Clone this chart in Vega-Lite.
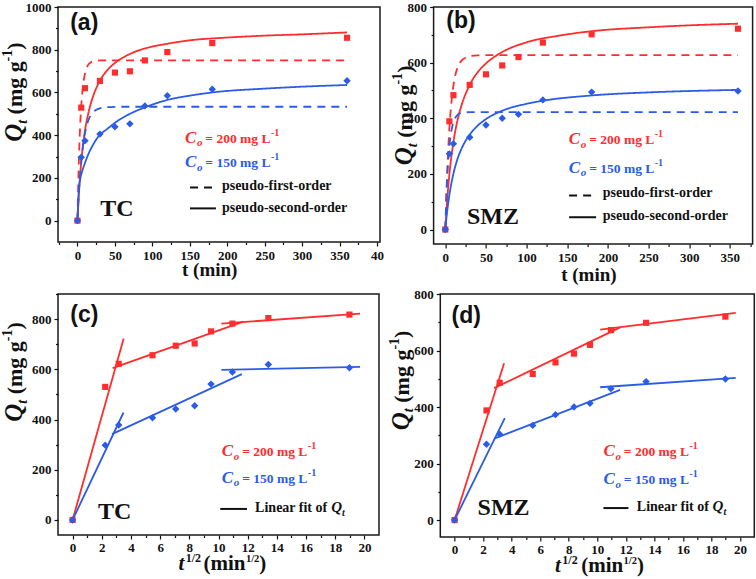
{
"$schema":"https://vega.github.io/schema/vega-lite/v6.json",
"padding":{"left":0,"top":0,"right":0,"bottom":0},
"background":"white",
"spacing":1,
"datasets":{
"pts":[
{"p":"a","s":"r","x":0,"y":0},{"p":"a","s":"r","x":5,"y":529},{"p":"a","s":"r","x":10,"y":620},{"p":"a","s":"r","x":30,"y":654},{"p":"a","s":"r","x":50,"y":693},{"p":"a","s":"r","x":70,"y":699},{"p":"a","s":"r","x":90,"y":750},{"p":"a","s":"r","x":120,"y":789},{"p":"a","s":"r","x":180,"y":831},{"p":"a","s":"r","x":360,"y":856},
{"p":"a","s":"b","x":0,"y":0},{"p":"a","s":"b","x":5,"y":297},{"p":"a","s":"b","x":10,"y":374},{"p":"a","s":"b","x":30,"y":405},{"p":"a","s":"b","x":50,"y":439},{"p":"a","s":"b","x":70,"y":453},{"p":"a","s":"b","x":90,"y":537},{"p":"a","s":"b","x":120,"y":585},{"p":"a","s":"b","x":180,"y":615},{"p":"a","s":"b","x":360,"y":655},
{"p":"b","s":"r","x":0,"y":0},{"p":"b","s":"r","x":5,"y":389},{"p":"b","s":"r","x":10,"y":483},{"p":"b","s":"r","x":30,"y":520},{"p":"b","s":"r","x":50,"y":558},{"p":"b","s":"r","x":70,"y":590},{"p":"b","s":"r","x":90,"y":620},{"p":"b","s":"r","x":120,"y":672},{"p":"b","s":"r","x":180,"y":702},{"p":"b","s":"r","x":360,"y":722},
{"p":"b","s":"b","x":0,"y":0},{"p":"b","s":"b","x":5,"y":272},{"p":"b","s":"b","x":10,"y":308},{"p":"b","s":"b","x":30,"y":332},{"p":"b","s":"b","x":50,"y":376},{"p":"b","s":"b","x":70,"y":400},{"p":"b","s":"b","x":90,"y":414},{"p":"b","s":"b","x":120,"y":466},{"p":"b","s":"b","x":180,"y":494},{"p":"b","s":"b","x":360,"y":498},
{"p":"c","s":"r","x":0,"y":0},{"p":"c","s":"r","x":2.236,"y":530},{"p":"c","s":"r","x":3.162,"y":622},{"p":"c","s":"r","x":5.477,"y":656},{"p":"c","s":"r","x":7.071,"y":694},{"p":"c","s":"r","x":8.367,"y":703},{"p":"c","s":"r","x":9.487,"y":751},{"p":"c","s":"r","x":10.954,"y":782},{"p":"c","s":"r","x":13.416,"y":804},{"p":"c","s":"r","x":18.974,"y":818},
{"p":"c","s":"b","x":0,"y":0},{"p":"c","s":"b","x":2.236,"y":298},{"p":"c","s":"b","x":3.162,"y":378},{"p":"c","s":"b","x":5.477,"y":407},{"p":"c","s":"b","x":7.071,"y":442},{"p":"c","s":"b","x":8.367,"y":455},{"p":"c","s":"b","x":9.487,"y":541},{"p":"c","s":"b","x":10.954,"y":589},{"p":"c","s":"b","x":13.416,"y":619},{"p":"c","s":"b","x":18.974,"y":606},
{"p":"d","s":"r","x":0,"y":0},{"p":"d","s":"r","x":2.236,"y":388},{"p":"d","s":"r","x":3.162,"y":486},{"p":"d","s":"r","x":5.477,"y":517},{"p":"d","s":"r","x":7.071,"y":558},{"p":"d","s":"r","x":8.367,"y":589},{"p":"d","s":"r","x":9.487,"y":620},{"p":"d","s":"r","x":10.954,"y":672},{"p":"d","s":"r","x":13.416,"y":698},{"p":"d","s":"r","x":18.974,"y":720},
{"p":"d","s":"b","x":0,"y":0},{"p":"d","s":"b","x":2.236,"y":268},{"p":"d","s":"b","x":3.162,"y":304},{"p":"d","s":"b","x":5.477,"y":335},{"p":"d","s":"b","x":7.071,"y":373},{"p":"d","s":"b","x":8.367,"y":400},{"p":"d","s":"b","x":9.487,"y":413},{"p":"d","s":"b","x":10.954,"y":465},{"p":"d","s":"b","x":13.416,"y":490},{"p":"d","s":"b","x":18.974,"y":499}
],
"fit":[
{"p":"a","g":"arf","s":"r","m":"pfo","x":0,"y":0},{"p":"a","g":"arf","s":"r","m":"pfo","x":1,"y":166},{"p":"a","g":"arf","s":"r","m":"pfo","x":2,"y":295},{"p":"a","g":"arf","s":"r","m":"pfo","x":3,"y":396},{"p":"a","g":"arf","s":"r","m":"pfo","x":4,"y":474},{"p":"a","g":"arf","s":"r","m":"pfo","x":5,"y":534},{"p":"a","g":"arf","s":"r","m":"pfo","x":6,"y":582},{"p":"a","g":"arf","s":"r","m":"pfo","x":8,"y":647},{"p":"a","g":"arf","s":"r","m":"pfo","x":10,"y":688},{"p":"a","g":"arf","s":"r","m":"pfo","x":12,"y":713},{"p":"a","g":"arf","s":"r","m":"pfo","x":15,"y":733},{"p":"a","g":"arf","s":"r","m":"pfo","x":20,"y":745},{"p":"a","g":"arf","s":"r","m":"pfo","x":25,"y":748},{"p":"a","g":"arf","s":"r","m":"pfo","x":30,"y":750},{"p":"a","g":"arf","s":"r","m":"pfo","x":360,"y":750},
{"p":"a","g":"ars","s":"r","m":"pso","x":0,"y":0},{"p":"a","g":"ars","s":"r","m":"pso","x":1,"y":72},{"p":"a","g":"ars","s":"r","m":"pso","x":2,"y":133},{"p":"a","g":"ars","s":"r","m":"pso","x":3,"y":186},{"p":"a","g":"ars","s":"r","m":"pso","x":5,"y":273},{"p":"a","g":"ars","s":"r","m":"pso","x":7,"y":341},{"p":"a","g":"ars","s":"r","m":"pso","x":10,"y":420},{"p":"a","g":"ars","s":"r","m":"pso","x":15,"y":510},{"p":"a","g":"ars","s":"r","m":"pso","x":20,"y":573},{"p":"a","g":"ars","s":"r","m":"pso","x":30,"y":655},{"p":"a","g":"ars","s":"r","m":"pso","x":40,"y":705},{"p":"a","g":"ars","s":"r","m":"pso","x":50,"y":738},{"p":"a","g":"ars","s":"r","m":"pso","x":70,"y":780},{"p":"a","g":"ars","s":"r","m":"pso","x":90,"y":806},{"p":"a","g":"ars","s":"r","m":"pso","x":120,"y":828},{"p":"a","g":"ars","s":"r","m":"pso","x":150,"y":844},{"p":"a","g":"ars","s":"r","m":"pso","x":200,"y":857},{"p":"a","g":"ars","s":"r","m":"pso","x":250,"y":866},{"p":"a","g":"ars","s":"r","m":"pso","x":300,"y":872},{"p":"a","g":"ars","s":"r","m":"pso","x":360,"y":881},
{"p":"a","g":"abf","s":"b","m":"pfo","x":0,"y":0},{"p":"a","g":"abf","s":"b","m":"pfo","x":1,"y":72},{"p":"a","g":"abf","s":"b","m":"pfo","x":2,"y":136},{"p":"a","g":"abf","s":"b","m":"pfo","x":3,"y":190},{"p":"a","g":"abf","s":"b","m":"pfo","x":4,"y":236},{"p":"a","g":"abf","s":"b","m":"pfo","x":6,"y":311},{"p":"a","g":"abf","s":"b","m":"pfo","x":8,"y":367},{"p":"a","g":"abf","s":"b","m":"pfo","x":10,"y":410},{"p":"a","g":"abf","s":"b","m":"pfo","x":12,"y":441},{"p":"a","g":"abf","s":"b","m":"pfo","x":15,"y":474},{"p":"a","g":"abf","s":"b","m":"pfo","x":20,"y":503},{"p":"a","g":"abf","s":"b","m":"pfo","x":25,"y":519},{"p":"a","g":"abf","s":"b","m":"pfo","x":30,"y":526},{"p":"a","g":"abf","s":"b","m":"pfo","x":40,"y":531},{"p":"a","g":"abf","s":"b","m":"pfo","x":60,"y":533},{"p":"a","g":"abf","s":"b","m":"pfo","x":360,"y":533},
{"p":"a","g":"abs","s":"b","m":"pso","x":0,"y":0},{"p":"a","g":"abs","s":"b","m":"pso","x":1,"y":90},{"p":"a","g":"abs","s":"b","m":"pso","x":2,"y":150},{"p":"a","g":"abs","s":"b","m":"pso","x":4,"y":200},{"p":"a","g":"abs","s":"b","m":"pso","x":6,"y":228},{"p":"a","g":"abs","s":"b","m":"pso","x":10,"y":270},{"p":"a","g":"abs","s":"b","m":"pso","x":15,"y":315},{"p":"a","g":"abs","s":"b","m":"pso","x":20,"y":350},{"p":"a","g":"abs","s":"b","m":"pso","x":28,"y":394},{"p":"a","g":"abs","s":"b","m":"pso","x":40,"y":430},{"p":"a","g":"abs","s":"b","m":"pso","x":50,"y":458},{"p":"a","g":"abs","s":"b","m":"pso","x":70,"y":500},{"p":"a","g":"abs","s":"b","m":"pso","x":90,"y":530},{"p":"a","g":"abs","s":"b","m":"pso","x":120,"y":565},{"p":"a","g":"abs","s":"b","m":"pso","x":150,"y":585},{"p":"a","g":"abs","s":"b","m":"pso","x":180,"y":600},{"p":"a","g":"abs","s":"b","m":"pso","x":250,"y":618},{"p":"a","g":"abs","s":"b","m":"pso","x":300,"y":627},{"p":"a","g":"abs","s":"b","m":"pso","x":360,"y":635},
{"p":"b","g":"brf","s":"r","m":"pfo","x":0,"y":0},{"p":"b","g":"brf","s":"r","m":"pfo","x":2,"y":183},{"p":"b","g":"brf","s":"r","m":"pfo","x":4,"y":313},{"p":"b","g":"brf","s":"r","m":"pfo","x":6,"y":406},{"p":"b","g":"brf","s":"r","m":"pfo","x":8,"y":471},{"p":"b","g":"brf","s":"r","m":"pfo","x":10,"y":518},{"p":"b","g":"brf","s":"r","m":"pfo","x":12,"y":551},{"p":"b","g":"brf","s":"r","m":"pfo","x":15,"y":583},{"p":"b","g":"brf","s":"r","m":"pfo","x":20,"y":607},{"p":"b","g":"brf","s":"r","m":"pfo","x":25,"y":618},{"p":"b","g":"brf","s":"r","m":"pfo","x":30,"y":623},{"p":"b","g":"brf","s":"r","m":"pfo","x":40,"y":626},{"p":"b","g":"brf","s":"r","m":"pfo","x":60,"y":627},{"p":"b","g":"brf","s":"r","m":"pfo","x":360,"y":627},
{"p":"b","g":"brs","s":"r","m":"pso","x":0,"y":0},{"p":"b","g":"brs","s":"r","m":"pso","x":2,"y":93},{"p":"b","g":"brs","s":"r","m":"pso","x":5,"y":198},{"p":"b","g":"brs","s":"r","m":"pso","x":10,"y":315},{"p":"b","g":"brs","s":"r","m":"pso","x":15,"y":393},{"p":"b","g":"brs","s":"r","m":"pso","x":20,"y":447},{"p":"b","g":"brs","s":"r","m":"pso","x":30,"y":520},{"p":"b","g":"brs","s":"r","m":"pso","x":40,"y":566},{"p":"b","g":"brs","s":"r","m":"pso","x":50,"y":597},{"p":"b","g":"brs","s":"r","m":"pso","x":70,"y":638},{"p":"b","g":"brs","s":"r","m":"pso","x":100,"y":673},{"p":"b","g":"brs","s":"r","m":"pso","x":140,"y":697},{"p":"b","g":"brs","s":"r","m":"pso","x":180,"y":713},{"p":"b","g":"brs","s":"r","m":"pso","x":250,"y":727},{"p":"b","g":"brs","s":"r","m":"pso","x":300,"y":734},{"p":"b","g":"brs","s":"r","m":"pso","x":360,"y":740},
{"p":"b","g":"bbf","s":"b","m":"pfo","x":0,"y":0},{"p":"b","g":"bbf","s":"b","m":"pfo","x":2,"y":165},{"p":"b","g":"bbf","s":"b","m":"pfo","x":4,"y":265},{"p":"b","g":"bbf","s":"b","m":"pfo","x":6,"y":326},{"p":"b","g":"bbf","s":"b","m":"pfo","x":8,"y":363},{"p":"b","g":"bbf","s":"b","m":"pfo","x":10,"y":386},{"p":"b","g":"bbf","s":"b","m":"pfo","x":12,"y":400},{"p":"b","g":"bbf","s":"b","m":"pfo","x":15,"y":412},{"p":"b","g":"bbf","s":"b","m":"pfo","x":20,"y":419},{"p":"b","g":"bbf","s":"b","m":"pfo","x":30,"y":422},{"p":"b","g":"bbf","s":"b","m":"pfo","x":360,"y":422},
{"p":"b","g":"bbs","s":"b","m":"pso","x":0,"y":0},{"p":"b","g":"bbs","s":"b","m":"pso","x":2,"y":58},{"p":"b","g":"bbs","s":"b","m":"pso","x":5,"y":124},{"p":"b","g":"bbs","s":"b","m":"pso","x":10,"y":201},{"p":"b","g":"bbs","s":"b","m":"pso","x":15,"y":254},{"p":"b","g":"bbs","s":"b","m":"pso","x":20,"y":291},{"p":"b","g":"bbs","s":"b","m":"pso","x":30,"y":341},{"p":"b","g":"bbs","s":"b","m":"pso","x":40,"y":374},{"p":"b","g":"bbs","s":"b","m":"pso","x":50,"y":397},{"p":"b","g":"bbs","s":"b","m":"pso","x":70,"y":427},{"p":"b","g":"bbs","s":"b","m":"pso","x":100,"y":452},{"p":"b","g":"bbs","s":"b","m":"pso","x":120,"y":463},{"p":"b","g":"bbs","s":"b","m":"pso","x":180,"y":482},{"p":"b","g":"bbs","s":"b","m":"pso","x":250,"y":493},{"p":"b","g":"bbs","s":"b","m":"pso","x":300,"y":498},{"p":"b","g":"bbs","s":"b","m":"pso","x":360,"y":502},
{"p":"c","g":"cr1","s":"r","m":"lin","x":0,"y":0},{"p":"c","g":"cr1","s":"r","m":"lin","x":3.5,"y":723},
{"p":"c","g":"cr2","s":"r","m":"lin","x":2.74,"y":605},{"p":"c","g":"cr2","s":"r","m":"lin","x":11.7,"y":790},
{"p":"c","g":"cr3","s":"r","m":"lin","x":10.2,"y":782},{"p":"c","g":"cr3","s":"r","m":"lin","x":19.7,"y":822},
{"p":"c","g":"cb1","s":"b","m":"lin","x":0,"y":0},{"p":"c","g":"cb1","s":"b","m":"lin","x":3.49,"y":428},
{"p":"c","g":"cb2","s":"b","m":"lin","x":2.7,"y":342},{"p":"c","g":"cb2","s":"b","m":"lin","x":11.6,"y":581},
{"p":"c","g":"cb3","s":"b","m":"lin","x":10.2,"y":598},{"p":"c","g":"cb3","s":"b","m":"lin","x":19.7,"y":610},
{"p":"d","g":"dr1","s":"r","m":"lin","x":0,"y":0},{"p":"d","g":"dr1","s":"r","m":"lin","x":3.47,"y":555},
{"p":"d","g":"dr2","s":"r","m":"lin","x":2.77,"y":467},{"p":"d","g":"dr2","s":"r","m":"lin","x":11.6,"y":682},
{"p":"d","g":"dr3","s":"r","m":"lin","x":10.2,"y":674},{"p":"d","g":"dr3","s":"r","m":"lin","x":19.7,"y":733},
{"p":"d","g":"db1","s":"b","m":"lin","x":0,"y":0},{"p":"d","g":"db1","s":"b","m":"lin","x":3.52,"y":361},
{"p":"d","g":"db2","s":"b","m":"lin","x":2.77,"y":288},{"p":"d","g":"db2","s":"b","m":"lin","x":11.6,"y":461},
{"p":"d","g":"db3","s":"b","m":"lin","x":10.2,"y":470},{"p":"d","g":"db3","s":"b","m":"lin","x":19.7,"y":503}
]
},
"vconcat":[
{"hconcat":[
{"width":322,"height":235,
"layer":[
{"data":{"name":"fit"},"transform":[{"filter":"datum.p=='a'"}],"mark":{"type":"line","strokeWidth":1.8,"interpolate":"monotone"},
"encoding":{
"x":{"field":"x","type":"quantitative","scale":{"domain":[-26,404],"nice":false,"zero":false},"axis":{"title":null,"tickCount":100,"format":"d","labelOverlap":false,"values":[-25,0,25,50,75,100,125,150,175,200,225,250,275,300,325,350,375,400],"labelExpr":"datum.value < 0 || datum.value % 50 != 0 ? '' : (datum.value == 400 ? '40\u2002' : datum.label)","tickSize":{"condition":{"test":"datum.value % 50 == 0","value":4},"value":2.5},"labelPadding":3}},
"y":{"field":"y","type":"quantitative","scale":{"domain":[-100,1000],"nice":false,"zero":false},"axis":{"title":null,"tickCount":100,"labelOverlap":false,"format":"d","values":[0,100,200,300,400,500,600,700,800,900,1000],"labelExpr":"datum.value % 200 == 0 ? datum.label : ''","tickSize":{"condition":{"test":"datum.value % 200 == 0","value":4},"value":2.5},"labelPadding":3}},
"color":{"field":"s","type":"nominal","scale":{"domain":["r","b"],"range":["#FF2D2D","#2B5CE6"]},"legend":null},
"strokeDash":{"field":"m","type":"nominal","scale":{"domain":["pfo","pso","lin"],"range":[[8,6],[1,0],[1,0]]},"legend":null},
"detail":{"field":"g"}}},
{"data":{"name":"pts"},"transform":[{"filter":"datum.p=='a'"}],"mark":{"type":"point","filled":true,"opacity":1},
"encoding":{"x":{"field":"x","type":"quantitative"},"y":{"field":"y","type":"quantitative"},
"color":{"field":"s","type":"nominal","legend":null},
"shape":{"field":"s","type":"nominal","scale":{"domain":["r","b"],"range":["square","diamond"]},"legend":null},
"size":{"field":"s","type":"nominal","scale":{"domain":["r","b"],"range":[38,55]},"legend":null}}},
{"data":{"values":[{}]},"mark":{"type":"text","text":"(a)","font":"Liberation Sans","fontWeight":"bold","fontSize":23,"align":"left","baseline":"alphabetic","color":"#111"},"encoding":{"x":{"datum":-9.7},"y":{"datum":894}}},
{"data":{"values":[{}]},"mark":{"type":"text","text":"TC","font":"Liberation Serif","fontWeight":"bold","fontSize":24,"align":"left","baseline":"alphabetic","color":"#111"},"encoding":{"x":{"datum":30.3},"y":{"datum":21.4}}},
{"data":{"values":[{}]},"mark":{"type":"text","text":"C","font":"Liberation Serif","fontWeight":"bold","fontStyle":"italic","fontSize":17,"align":"left","baseline":"alphabetic","color":"#FF2D2D"},"encoding":{"x":{"datum":143.6},"y":{"datum":364.9}}},
{"data":{"values":[{}]},"mark":{"type":"text","text":"o","font":"Liberation Serif","fontWeight":"bold","fontStyle":"italic","fontSize":11,"align":"left","baseline":"alphabetic","color":"#FF2D2D"},"encoding":{"x":{"datum":159.6},"y":{"datum":348.6}}},
{"data":{"values":[{}]},"mark":{"type":"text","text":"= 200 mg L","font":"Liberation Serif","fontWeight":"bold","fontSize":13.5,"align":"left","baseline":"alphabetic","color":"#FF2D2D"},"encoding":{"x":{"datum":170.8},"y":{"datum":364.9}}},
{"data":{"values":[{}]},"mark":{"type":"text","text":"-1","font":"Liberation Serif","fontWeight":"bold","fontSize":10,"align":"left","baseline":"alphabetic","color":"#FF2D2D"},"encoding":{"x":{"datum":258.3},"y":{"datum":397.5}}},
{"data":{"values":[{}]},"mark":{"type":"text","text":"C","font":"Liberation Serif","fontWeight":"bold","fontStyle":"italic","fontSize":17,"align":"left","baseline":"alphabetic","color":"#2B5CE6"},"encoding":{"x":{"datum":143.6},"y":{"datum":250.7}}},
{"data":{"values":[{}]},"mark":{"type":"text","text":"o","font":"Liberation Serif","fontWeight":"bold","fontStyle":"italic","fontSize":11,"align":"left","baseline":"alphabetic","color":"#2B5CE6"},"encoding":{"x":{"datum":159.6},"y":{"datum":234.4}}},
{"data":{"values":[{}]},"mark":{"type":"text","text":"= 150 mg L","font":"Liberation Serif","fontWeight":"bold","fontSize":13.5,"align":"left","baseline":"alphabetic","color":"#2B5CE6"},"encoding":{"x":{"datum":170.8},"y":{"datum":250.7}}},
{"data":{"values":[{}]},"mark":{"type":"text","text":"-1","font":"Liberation Serif","fontWeight":"bold","fontSize":10,"align":"left","baseline":"alphabetic","color":"#2B5CE6"},"encoding":{"x":{"datum":258.3},"y":{"datum":283.3}}},
{"data":{"values":[{}]},"mark":{"type":"rule","strokeDash":[8,6],"strokeWidth":2,"color":"#111"},"encoding":{"x":{"datum":150.3},"x2":{"datum":181},"y":{"datum":155.2}}},
{"data":{"values":[{}]},"mark":{"type":"text","text":"pseudo-first-order","font":"Liberation Serif","fontWeight":"bold","fontSize":14,"align":"left","baseline":"alphabetic","color":"#111"},"encoding":{"x":{"datum":192.9},"y":{"datum":141.2}}},
{"data":{"values":[{}]},"mark":{"type":"rule","strokeWidth":2,"color":"#111"},"encoding":{"x":{"datum":150.3},"x2":{"datum":184.9},"y":{"datum":57.3}}},
{"data":{"values":[{}]},"mark":{"type":"text","text":"pseudo-second-order","font":"Liberation Serif","fontWeight":"bold","fontSize":14,"align":"left","baseline":"alphabetic","color":"#111"},"encoding":{"x":{"datum":192.9},"y":{"datum":38.7}}},
{"data":{"values":[{}]},"mark":{"type":"text","text":"t (min)","font":"Liberation Serif","fontWeight":"bold","fontSize":19,"align":"left","baseline":"alphabetic","color":"#111"},"encoding":{"x":{"datum":139.6},"y":{"datum":-258}}},
{"data":{"values":[{}]},"mark":{"type":"text","text":"Q","angle":270,"font":"Liberation Serif","fontWeight":"bold","fontStyle":"italic","fontSize":25,"align":"left","baseline":"alphabetic","color":"#111"},"encoding":{"x":{"datum":-73.7},"y":{"datum":369.5}}},
{"data":{"values":[{}]},"mark":{"type":"text","text":"t","angle":270,"font":"Liberation Serif","fontWeight":"bold","fontStyle":"italic","fontSize":14,"align":"left","baseline":"alphabetic","color":"#111"},"encoding":{"x":{"datum":-67.7},"y":{"datum":453.4}}},
{"data":{"values":[{}]},"mark":{"type":"text","text":"(mg g","angle":270,"font":"Liberation Serif","fontWeight":"bold","fontSize":22,"align":"left","baseline":"alphabetic","color":"#111"},"encoding":{"x":{"datum":-73.7},"y":{"datum":497.2}}},
{"data":{"values":[{}]},"mark":{"type":"text","text":"-1","angle":270,"font":"Liberation Serif","fontWeight":"bold","fontSize":14,"align":"left","baseline":"alphabetic","color":"#111"},"encoding":{"x":{"datum":-87.1},"y":{"datum":745.1}}},
{"data":{"values":[{}]},"mark":{"type":"text","text":")","angle":270,"font":"Liberation Serif","fontWeight":"bold","fontSize":22,"align":"left","baseline":"alphabetic","color":"#111"},"encoding":{"x":{"datum":-73.7},"y":{"datum":799.6}}}
]},
{"width":319,"height":237,
"layer":[
{"data":{"name":"fit"},"transform":[{"filter":"datum.p=='b'"}],"mark":{"type":"line","strokeWidth":1.8,"interpolate":"monotone"},
"encoding":{
"x":{"field":"x","type":"quantitative","scale":{"domain":[-14.4,378],"nice":false,"zero":false},"axis":{"title":null,"tickCount":100,"format":"d","labelOverlap":false,"values":[0,25,50,75,100,125,150,175,200,225,250,275,300,325,350,375],"labelExpr":"datum.value % 50 != 0 ? '' : datum.label","tickSize":{"condition":{"test":"datum.value % 50 == 0","value":4},"value":2.5},"labelPadding":3}},
"y":{"field":"y","type":"quantitative","scale":{"domain":[-52,800],"nice":false,"zero":false},"axis":{"title":null,"tickCount":100,"format":"d","labelOverlap":false,"values":[0,100,200,300,400,500,600,700,800],"labelExpr":"datum.value % 200 == 0 ? datum.label : ''","tickSize":{"condition":{"test":"datum.value % 200 == 0","value":4},"value":2.5},"labelPadding":3}},
"color":{"field":"s","type":"nominal","scale":{"domain":["r","b"],"range":["#FF2D2D","#2B5CE6"]},"legend":null},
"strokeDash":{"field":"m","type":"nominal","scale":{"domain":["pfo","pso","lin"],"range":[[8,6],[1,0],[1,0]]},"legend":null},
"detail":{"field":"g"}}},
{"data":{"name":"pts"},"transform":[{"filter":"datum.p=='b'"}],"mark":{"type":"point","filled":true,"opacity":1},
"encoding":{"x":{"field":"x","type":"quantitative"},"y":{"field":"y","type":"quantitative"},
"color":{"field":"s","type":"nominal","legend":null},
"shape":{"field":"s","type":"nominal","scale":{"domain":["r","b"],"range":["triangle-down","triangle-up"]},"legend":null},
"size":{"field":"s","type":"nominal","scale":{"domain":["r","b"],"range":[55,55]},"legend":null}}},
{"data":{"values":[{}]},"mark":{"type":"text","text":"(b)","font":"Liberation Sans","fontWeight":"bold","fontSize":23,"align":"left","baseline":"alphabetic","color":"#111"},"encoding":{"x":{"datum":1.2},"y":{"datum":724}}},
{"data":{"values":[{}]},"mark":{"type":"text","text":"SMZ","font":"Liberation Serif","fontWeight":"bold","fontSize":24,"align":"left","baseline":"alphabetic","color":"#111"},"encoding":{"x":{"datum":26.7},"y":{"datum":20}}},
{"data":{"values":[{}]},"mark":{"type":"text","text":"C","font":"Liberation Serif","fontWeight":"bold","fontStyle":"italic","fontSize":17,"align":"left","baseline":"alphabetic","color":"#FF2D2D"},"encoding":{"x":{"datum":152}, "y":{"datum":306.8}}},
{"data":{"values":[{}]},"mark":{"type":"text","text":"o","font":"Liberation Serif","fontWeight":"bold","fontStyle":"italic","fontSize":11,"align":"left","baseline":"alphabetic","color":"#FF2D2D"},"encoding":{"x":{"datum":166.7},"y":{"datum":294.2}}},
{"data":{"values":[{}]},"mark":{"type":"text","text":"= 200 mg L","font":"Liberation Serif","fontWeight":"bold","fontSize":13.5,"align":"left","baseline":"alphabetic","color":"#FF2D2D"},"encoding":{"x":{"datum":177.1},"y":{"datum":306.8}}},
{"data":{"values":[{}]},"mark":{"type":"text","text":"-1","font":"Liberation Serif","fontWeight":"bold","fontSize":10,"align":"left","baseline":"alphabetic","color":"#FF2D2D"},"encoding":{"x":{"datum":257.6},"y":{"datum":332}}},
{"data":{"values":[{}]},"mark":{"type":"text","text":"C","font":"Liberation Serif","fontWeight":"bold","fontStyle":"italic","fontSize":17,"align":"left","baseline":"alphabetic","color":"#2B5CE6"},"encoding":{"x":{"datum":152},"y":{"datum":204.3}}},
{"data":{"values":[{}]},"mark":{"type":"text","text":"o","font":"Liberation Serif","fontWeight":"bold","fontStyle":"italic","fontSize":11,"align":"left","baseline":"alphabetic","color":"#2B5CE6"},"encoding":{"x":{"datum":166.7},"y":{"datum":191.7}}},
{"data":{"values":[{}]},"mark":{"type":"text","text":"= 150 mg L","font":"Liberation Serif","fontWeight":"bold","fontSize":13.5,"align":"left","baseline":"alphabetic","color":"#2B5CE6"},"encoding":{"x":{"datum":177.1},"y":{"datum":204.3}}},
{"data":{"values":[{}]},"mark":{"type":"text","text":"-1","font":"Liberation Serif","fontWeight":"bold","fontSize":10,"align":"left","baseline":"alphabetic","color":"#2B5CE6"},"encoding":{"x":{"datum":257.6},"y":{"datum":229.5}}},
{"data":{"values":[{}]},"mark":{"type":"rule","strokeDash":[8,6],"strokeWidth":2,"color":"#111"},"encoding":{"x":{"datum":152.3},"x2":{"datum":183},"y":{"datum":122.3}}},
{"data":{"values":[{}]},"mark":{"type":"text","text":"pseudo-first-order","font":"Liberation Serif","fontWeight":"bold","fontSize":14,"align":"left","baseline":"alphabetic","color":"#111"},"encoding":{"x":{"datum":193.7},"y":{"datum":116.2}}},
{"data":{"values":[{}]},"mark":{"type":"rule","strokeWidth":2,"color":"#111"},"encoding":{"x":{"datum":152.3},"x2":{"datum":185.5},"y":{"datum":44.2}}},
{"data":{"values":[{}]},"mark":{"type":"text","text":"pseudo-second-order","font":"Liberation Serif","fontWeight":"bold","fontSize":14,"align":"left","baseline":"alphabetic","color":"#111"},"encoding":{"x":{"datum":193.7},"y":{"datum":34.5}}},
{"data":{"values":[{}]},"mark":{"type":"text","text":"t (min)","font":"Liberation Serif","fontWeight":"bold","fontSize":19,"align":"left","baseline":"alphabetic","color":"#111"},"encoding":{"x":{"datum":142.5},"y":{"datum":-184}}},
{"data":{"values":[{}]},"mark":{"type":"text","text":"Q","angle":270,"font":"Liberation Serif","fontWeight":"bold","fontStyle":"italic","fontSize":25,"align":"left","baseline":"alphabetic","color":"#111"},"encoding":{"x":{"datum":-40.5},"y":{"datum":231.3}}},
{"data":{"values":[{}]},"mark":{"type":"text","text":"t","angle":270,"font":"Liberation Serif","fontWeight":"bold","fontStyle":"italic","fontSize":14,"align":"left","baseline":"alphabetic","color":"#111"},"encoding":{"x":{"datum":-35},"y":{"datum":296}}},
{"data":{"values":[{}]},"mark":{"type":"text","text":"(mg g","angle":270,"font":"Liberation Serif","fontWeight":"bold","fontSize":22,"align":"left","baseline":"alphabetic","color":"#111"},"encoding":{"x":{"datum":-40.5},"y":{"datum":329.9}}},
{"data":{"values":[{}]},"mark":{"type":"text","text":"-1","angle":270,"font":"Liberation Serif","fontWeight":"bold","fontSize":14,"align":"left","baseline":"alphabetic","color":"#111"},"encoding":{"x":{"datum":-52.8},"y":{"datum":521.2}}},
{"data":{"values":[{}]},"mark":{"type":"text","text":")","angle":270,"font":"Liberation Serif","fontWeight":"bold","fontSize":22,"align":"left","baseline":"alphabetic","color":"#111"},"encoding":{"x":{"datum":-40.5},"y":{"datum":563.3}}}
]}
],"spacing":53.6,"bounds":"flush"},
{"hconcat":[
{"width":321,"height":241,
"layer":[
{"data":{"name":"fit"},"transform":[{"filter":"datum.p=='c'"}],"mark":{"type":"line","strokeWidth":1.8},
"encoding":{
"x":{"field":"x","type":"quantitative","scale":{"domain":[-1,21],"nice":false,"zero":false},"axis":{"title":null,"tickCount":100,"format":"d","labelOverlap":false,"values":[0,1,2,3,4,5,6,7,8,9,10,11,12,13,14,15,16,17,18,19,20],"labelExpr":"datum.value % 2 != 0 ? '' : datum.label","tickSize":{"condition":{"test":"datum.value % 2 == 0","value":4},"value":2.5},"labelPadding":2}},
"y":{"field":"y","type":"quantitative","scale":{"domain":[-60,900],"nice":false,"zero":false},"axis":{"title":null,"tickCount":100,"format":"d","labelOverlap":false,"values":[0,100,200,300,400,500,600,700,800,900],"labelExpr":"datum.value % 200 == 0 ? datum.label : ''","tickSize":{"condition":{"test":"datum.value % 200 == 0","value":4},"value":2.5},"labelPadding":3}},
"color":{"field":"s","type":"nominal","scale":{"domain":["r","b"],"range":["#FF2D2D","#2B5CE6"]},"legend":null},
"detail":{"field":"g"}}},
{"data":{"name":"pts"},"transform":[{"filter":"datum.p=='c'"}],"mark":{"type":"point","filled":true,"opacity":1},
"encoding":{"x":{"field":"x","type":"quantitative"},"y":{"field":"y","type":"quantitative"},
"color":{"field":"s","type":"nominal","legend":null},
"shape":{"field":"s","type":"nominal","scale":{"domain":["r","b"],"range":["square","diamond"]},"legend":null},
"size":{"field":"s","type":"nominal","scale":{"domain":["r","b"],"range":[38,55]},"legend":null}}},
{"data":{"values":[{}]},"mark":{"type":"text","text":"(c)","font":"Liberation Sans","fontWeight":"bold","fontSize":23,"align":"left","baseline":"alphabetic","color":"#111"},"encoding":{"x":{"datum":-0.16},"y":{"datum":787}}},
{"data":{"values":[{}]},"mark":{"type":"text","text":"TC","font":"Liberation Serif","fontWeight":"bold","fontSize":24,"align":"left","baseline":"alphabetic","color":"#111"},"encoding":{"x":{"datum":1.74},"y":{"datum":5.2}}},
{"data":{"values":[{}]},"mark":{"type":"text","text":"C","font":"Liberation Serif","fontWeight":"bold","fontStyle":"italic","fontSize":17,"align":"left","baseline":"alphabetic","color":"#FF2D2D"},"encoding":{"x":{"datum":10.23},"y":{"datum":253.9}}},
{"data":{"values":[{}]},"mark":{"type":"text","text":"o","font":"Liberation Serif","fontWeight":"bold","fontStyle":"italic","fontSize":11,"align":"left","baseline":"alphabetic","color":"#FF2D2D"},"encoding":{"x":{"datum":11.05},"y":{"datum":240}}},
{"data":{"values":[{}]},"mark":{"type":"text","text":"= 200 mg L","font":"Liberation Serif","fontWeight":"bold","fontSize":13.5,"align":"left","baseline":"alphabetic","color":"#FF2D2D"},"encoding":{"x":{"datum":11.63},"y":{"datum":253.9}}},
{"data":{"values":[{}]},"mark":{"type":"text","text":"-1","font":"Liberation Serif","fontWeight":"bold","fontSize":10,"align":"left","baseline":"alphabetic","color":"#FF2D2D"},"encoding":{"x":{"datum":16.12},"y":{"datum":281.7}}},
{"data":{"values":[{}]},"mark":{"type":"text","text":"C","font":"Liberation Serif","fontWeight":"bold","fontStyle":"italic","fontSize":17,"align":"left","baseline":"alphabetic","color":"#2B5CE6"},"encoding":{"x":{"datum":10.23},"y":{"datum":148.4}}},
{"data":{"values":[{}]},"mark":{"type":"text","text":"o","font":"Liberation Serif","fontWeight":"bold","fontStyle":"italic","fontSize":11,"align":"left","baseline":"alphabetic","color":"#2B5CE6"},"encoding":{"x":{"datum":11.05},"y":{"datum":134.5}}},
{"data":{"values":[{}]},"mark":{"type":"text","text":"= 150 mg L","font":"Liberation Serif","fontWeight":"bold","fontSize":13.5,"align":"left","baseline":"alphabetic","color":"#2B5CE6"},"encoding":{"x":{"datum":11.63},"y":{"datum":148.4}}},
{"data":{"values":[{}]},"mark":{"type":"text","text":"-1","font":"Liberation Serif","fontWeight":"bold","fontSize":10,"align":"left","baseline":"alphabetic","color":"#2B5CE6"},"encoding":{"x":{"datum":16.12},"y":{"datum":176.3}}},
{"data":{"values":[{}]},"mark":{"type":"rule","strokeWidth":2,"color":"#111"},"encoding":{"x":{"datum":10.12},"x2":{"datum":11.95},"y":{"datum":43.8}}},
{"data":{"values":[{}]},"mark":{"type":"text","text":"Linear fit of","font":"Liberation Serif","fontWeight":"bold","fontSize":14,"align":"left","baseline":"alphabetic","color":"#111"},"encoding":{"x":{"datum":12.51},"y":{"datum":30.2}}},
{"data":{"values":[{}]},"mark":{"type":"text","text":"Q","font":"Liberation Serif","fontWeight":"bold","fontStyle":"italic","fontSize":15,"align":"left","baseline":"alphabetic","color":"#111"},"encoding":{"x":{"datum":17.72},"y":{"datum":30.2}}},
{"data":{"values":[{}]},"mark":{"type":"text","text":"t","font":"Liberation Serif","fontWeight":"bold","fontStyle":"italic","fontSize":10,"align":"left","baseline":"alphabetic","color":"#111"},"encoding":{"x":{"datum":18.47},"y":{"datum":17.1}}},
{"data":{"values":[{}]},"mark":{"type":"text","text":"t","font":"Liberation Serif","fontWeight":"bold","fontStyle":"italic","fontSize":21,"align":"left","baseline":"alphabetic","color":"#111"},"encoding":{"x":{"datum":7.26},"y":{"datum":-201}}},
{"data":{"values":[{}]},"mark":{"type":"text","text":"1/2","font":"Liberation Serif","fontWeight":"bold","fontSize":12,"align":"left","baseline":"alphabetic","color":"#111"},"encoding":{"x":{"datum":7.75},"y":{"datum":-169}}},
{"data":{"values":[{}]},"mark":{"type":"text","text":"(min","font":"Liberation Serif","fontWeight":"bold","fontSize":21,"align":"left","baseline":"alphabetic","color":"#111"},"encoding":{"x":{"datum":8.97},"y":{"datum":-201}}},
{"data":{"values":[{}]},"mark":{"type":"text","text":"1/2","font":"Liberation Serif","fontWeight":"bold","fontSize":10.5,"align":"left","baseline":"alphabetic","color":"#111"},"encoding":{"x":{"datum":11.88},"y":{"datum":-169}}},
{"data":{"values":[{}]},"mark":{"type":"text","text":")","font":"Liberation Serif","fontWeight":"bold","fontSize":21,"align":"left","baseline":"alphabetic","color":"#111"},"encoding":{"x":{"datum":12.8},"y":{"datum":-201}}},
{"data":{"values":[{}]},"mark":{"type":"text","text":"Q","angle":270,"font":"Liberation Serif","fontWeight":"bold","fontStyle":"italic","fontSize":25,"align":"left","baseline":"alphabetic","color":"#111"},"encoding":{"x":{"datum":-3.45},"y":{"datum":391.2}}},
{"data":{"values":[{}]},"mark":{"type":"text","text":"t","angle":270,"font":"Liberation Serif","fontWeight":"bold","fontStyle":"italic","fontSize":14,"align":"left","baseline":"alphabetic","color":"#111"},"encoding":{"x":{"datum":-3.14},"y":{"datum":462.8}}},
{"data":{"values":[{}]},"mark":{"type":"text","text":"(mg g","angle":270,"font":"Liberation Serif","fontWeight":"bold","fontSize":22,"align":"left","baseline":"alphabetic","color":"#111"},"encoding":{"x":{"datum":-3.45},"y":{"datum":500.2}}},
{"data":{"values":[{}]},"mark":{"type":"text","text":"-1","angle":270,"font":"Liberation Serif","fontWeight":"bold","fontSize":14,"align":"left","baseline":"alphabetic","color":"#111"},"encoding":{"x":{"datum":-4.13},"y":{"datum":711.9}}},
{"data":{"values":[{}]},"mark":{"type":"text","text":")","angle":270,"font":"Liberation Serif","fontWeight":"bold","fontSize":22,"align":"left","baseline":"alphabetic","color":"#111"},"encoding":{"x":{"datum":-3.45},"y":{"datum":758.5}}}
]},
{"width":314,"height":243,
"layer":[
{"data":{"name":"fit"},"transform":[{"filter":"datum.p=='d'"}],"mark":{"type":"line","strokeWidth":1.8},
"encoding":{
"x":{"field":"x","type":"quantitative","scale":{"domain":[-1,21],"nice":false,"zero":false},"axis":{"title":null,"tickCount":100,"format":"d","labelOverlap":false,"values":[0,1,2,3,4,5,6,7,8,9,10,11,12,13,14,15,16,17,18,19,20],"labelExpr":"datum.value % 2 != 0 ? '' : datum.label","tickSize":{"condition":{"test":"datum.value % 2 == 0","value":4},"value":2.5},"labelPadding":2}},
"y":{"field":"y","type":"quantitative","scale":{"domain":[-60,800],"nice":false,"zero":false},"axis":{"title":null,"tickCount":100,"format":"d","labelOverlap":false,"values":[0,100,200,300,400,500,600,700,800],"labelExpr":"datum.value % 200 == 0 ? datum.label : ''","tickSize":{"condition":{"test":"datum.value % 200 == 0","value":4},"value":2.5},"labelPadding":3}},
"color":{"field":"s","type":"nominal","scale":{"domain":["r","b"],"range":["#FF2D2D","#2B5CE6"]},"legend":null},
"detail":{"field":"g"}}},
{"data":{"name":"pts"},"transform":[{"filter":"datum.p=='d'"}],"mark":{"type":"point","filled":true,"opacity":1},
"encoding":{"x":{"field":"x","type":"quantitative"},"y":{"field":"y","type":"quantitative"},
"color":{"field":"s","type":"nominal","legend":null},
"shape":{"field":"s","type":"nominal","scale":{"domain":["r","b"],"range":["triangle-down","triangle-up"]},"legend":null},
"size":{"field":"s","type":"nominal","scale":{"domain":["r","b"],"range":[55,55]},"legend":null}}},
{"data":{"values":[{}]},"mark":{"type":"text","text":"(d)","font":"Liberation Sans","fontWeight":"bold","fontSize":23,"align":"left","baseline":"alphabetic","color":"#111"},"encoding":{"x":{"datum":-0.21},"y":{"datum":697}}},
{"data":{"values":[{}]},"mark":{"type":"text","text":"SMZ","font":"Liberation Serif","fontWeight":"bold","fontSize":24,"align":"left","baseline":"alphabetic","color":"#111"},"encoding":{"x":{"datum":1.61},"y":{"datum":16.6}}},
{"data":{"values":[{}]},"mark":{"type":"text","text":"C","font":"Liberation Serif","fontWeight":"bold","fontStyle":"italic","fontSize":17,"align":"left","baseline":"alphabetic","color":"#FF2D2D"},"encoding":{"x":{"datum":10.43},"y":{"datum":226.3}}},
{"data":{"values":[{}]},"mark":{"type":"text","text":"o","font":"Liberation Serif","fontWeight":"bold","fontStyle":"italic","fontSize":11,"align":"left","baseline":"alphabetic","color":"#FF2D2D"},"encoding":{"x":{"datum":11.27},"y":{"datum":213.9}}},
{"data":{"values":[{}]},"mark":{"type":"text","text":"= 200 mg L","font":"Liberation Serif","fontWeight":"bold","fontSize":13.5,"align":"left","baseline":"alphabetic","color":"#FF2D2D"},"encoding":{"x":{"datum":11.86},"y":{"datum":226.3}}},
{"data":{"values":[{}]},"mark":{"type":"text","text":"-1","font":"Liberation Serif","fontWeight":"bold","fontSize":10,"align":"left","baseline":"alphabetic","color":"#FF2D2D"},"encoding":{"x":{"datum":16.46},"y":{"datum":251}}},
{"data":{"values":[{}]},"mark":{"type":"text","text":"C","font":"Liberation Serif","fontWeight":"bold","fontStyle":"italic","fontSize":17,"align":"left","baseline":"alphabetic","color":"#2B5CE6"},"encoding":{"x":{"datum":10.43},"y":{"datum":127.3}}},
{"data":{"values":[{}]},"mark":{"type":"text","text":"o","font":"Liberation Serif","fontWeight":"bold","fontStyle":"italic","fontSize":11,"align":"left","baseline":"alphabetic","color":"#2B5CE6"},"encoding":{"x":{"datum":11.27},"y":{"datum":114.9}}},
{"data":{"values":[{}]},"mark":{"type":"text","text":"= 150 mg L","font":"Liberation Serif","fontWeight":"bold","fontSize":13.5,"align":"left","baseline":"alphabetic","color":"#2B5CE6"},"encoding":{"x":{"datum":11.86},"y":{"datum":127.3}}},
{"data":{"values":[{}]},"mark":{"type":"text","text":"-1","font":"Liberation Serif","fontWeight":"bold","fontSize":10,"align":"left","baseline":"alphabetic","color":"#2B5CE6"},"encoding":{"x":{"datum":16.46},"y":{"datum":152}}},
{"data":{"values":[{}]},"mark":{"type":"rule","strokeWidth":2,"color":"#111"},"encoding":{"x":{"datum":10.43},"x2":{"datum":12.18},"y":{"datum":42.4}}},
{"data":{"values":[{}]},"mark":{"type":"text","text":"Linear fit of","font":"Liberation Serif","fontWeight":"bold","fontSize":14,"align":"left","baseline":"alphabetic","color":"#111"},"encoding":{"x":{"datum":12.77},"y":{"datum":30.8}}},
{"data":{"values":[{}]},"mark":{"type":"text","text":"Q","font":"Liberation Serif","fontWeight":"bold","fontStyle":"italic","fontSize":15,"align":"left","baseline":"alphabetic","color":"#111"},"encoding":{"x":{"datum":18.07},"y":{"datum":30.8}}},
{"data":{"values":[{}]},"mark":{"type":"text","text":"t","font":"Liberation Serif","fontWeight":"bold","fontStyle":"italic","fontSize":10,"align":"left","baseline":"alphabetic","color":"#111"},"encoding":{"x":{"datum":18.84},"y":{"datum":19.1}}},
{"data":{"values":[{}]},"mark":{"type":"text","text":"t","font":"Liberation Serif","fontWeight":"bold","fontStyle":"italic","fontSize":21,"align":"left","baseline":"alphabetic","color":"#111"},"encoding":{"x":{"datum":7.04},"y":{"datum":-184}}},
{"data":{"values":[{}]},"mark":{"type":"text","text":"1/2","font":"Liberation Serif","fontWeight":"bold","fontSize":12,"align":"left","baseline":"alphabetic","color":"#111"},"encoding":{"x":{"datum":7.55},"y":{"datum":-155}}},
{"data":{"values":[{}]},"mark":{"type":"text","text":"(min","font":"Liberation Serif","fontWeight":"bold","fontSize":21,"align":"left","baseline":"alphabetic","color":"#111"},"encoding":{"x":{"datum":8.87},"y":{"datum":-184}}},
{"data":{"values":[{}]},"mark":{"type":"text","text":"1/2","font":"Liberation Serif","fontWeight":"bold","fontSize":10.5,"align":"left","baseline":"alphabetic","color":"#111"},"encoding":{"x":{"datum":11.84},"y":{"datum":-155}}},
{"data":{"values":[{}]},"mark":{"type":"text","text":")","font":"Liberation Serif","fontWeight":"bold","fontSize":21,"align":"left","baseline":"alphabetic","color":"#111"},"encoding":{"x":{"datum":12.78},"y":{"datum":-184}}},
{"data":{"values":[{}]},"mark":{"type":"text","text":"Q","angle":270,"font":"Liberation Serif","fontWeight":"bold","fontStyle":"italic","fontSize":25,"align":"left","baseline":"alphabetic","color":"#111"},"encoding":{"x":{"datum":-3.2},"y":{"datum":318.2}}},
{"data":{"values":[{}]},"mark":{"type":"text","text":"t","angle":270,"font":"Liberation Serif","fontWeight":"bold","fontStyle":"italic","fontSize":14,"align":"left","baseline":"alphabetic","color":"#111"},"encoding":{"x":{"datum":-2.89},"y":{"datum":381.9}}},
{"data":{"values":[{}]},"mark":{"type":"text","text":"(mg g","angle":270,"font":"Liberation Serif","fontWeight":"bold","fontSize":22,"align":"left","baseline":"alphabetic","color":"#111"},"encoding":{"x":{"datum":-3.2},"y":{"datum":415.1}}},
{"data":{"values":[{}]},"mark":{"type":"text","text":"-1","angle":270,"font":"Liberation Serif","fontWeight":"bold","fontSize":14,"align":"left","baseline":"alphabetic","color":"#111"},"encoding":{"x":{"datum":-3.9},"y":{"datum":603.3}}},
{"data":{"values":[{}]},"mark":{"type":"text","text":")","angle":270,"font":"Liberation Serif","fontWeight":"bold","fontSize":22,"align":"left","baseline":"alphabetic","color":"#111"},"encoding":{"x":{"datum":-3.2},"y":{"datum":644.6}}}
]}
],"spacing":61.3,"bounds":"flush"}
],
"config":{
"view":{"stroke":"#1a1a1a","strokeWidth":1.5},
"axis":{"domain":false,"grid":false,"labelFont":"Liberation Serif","labelFontWeight":"bold","labelFontSize":13,"labelColor":"#111","tickColor":"#111","tickWidth":1.2,"labelOverlap":false,"labelFlush":false,"labelBound":false}
}
}
